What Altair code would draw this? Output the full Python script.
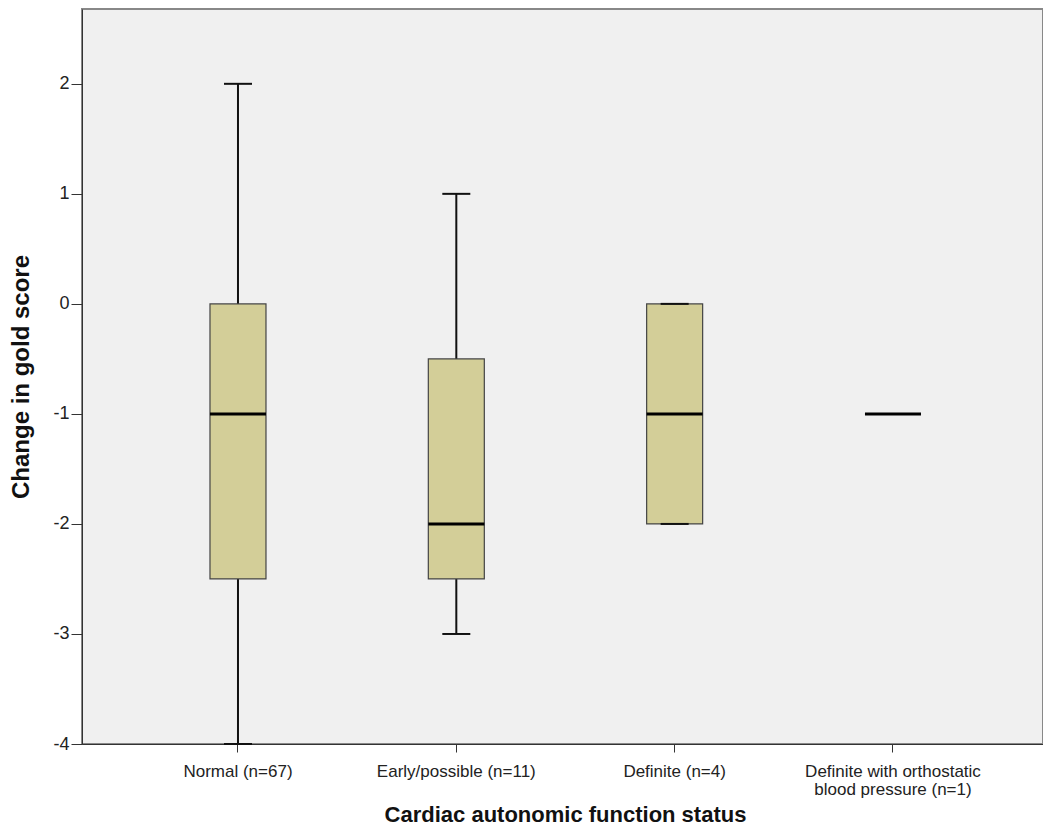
import altair as alt
import pandas as pd

categories = ["Normal (n=67)", "Early/possible (n=11)", "Definite (n=4)",
              "Definite with orthostatic|blood pressure (n=1)"]
whisker_low = [-4, -3, -2, -1]
q1 = [-2.5, -2.5, -2, -1]
median = [-1, -2, -1, -1]
q3 = [0, -0.5, 0, -1]
whisker_high = [2, 1, 0, -1]
y_ticks = [-4, -3, -2, -1, 0, 1, 2]

df = pd.DataFrame({
    "cat": categories, "lo": whisker_low, "q1": q1, "med": median,
    "q3": q3, "hi": whisker_high,
})
df_caps = df[df["lo"] < df["hi"]]
df_box = df[df["q1"] < df["q3"]]

FONT = "Liberation Sans"
W, H = 961, 735

xenc = alt.X("cat:N", sort=categories,
             scale=alt.Scale(paddingInner=0, paddingOuter=0.2008, align=0.534),
             axis=alt.Axis(title="Cardiac autonomic function status",
                           labelAngle=0, labelFontSize=17, labelColor="#222",
                           labelFont=FONT, labelPadding=11, labelLimit=400,
                           labelExpr="split(datum.label, '|')",
                           labelLineHeight=18, labelBaseline="top",
                           tickSize=8, tickColor="#333", domainColor="#333",
                           titleFont=FONT, titleFontSize=22, titleFontWeight="bold",
                           titleColor="#111", titleX=483, titleY=77,
                           titleBaseline="alphabetic", titleAlign="center"))
yscale = alt.Scale(domain=[-4, 2.68], nice=False, zero=False)
yaxis = alt.Axis(title="Change in gold score", values=y_ticks, grid=False,
                 labelExpr="datum.value < 0 ? '-' + abs(datum.value) : '' + datum.value",
                 labelFontSize=18, labelColor="#222", labelFont=FONT,
                 labelPadding=2, tickSize=11, tickColor="#333", domainColor="#333",
                 titleFont=FONT, titleFontSize=24, titleFontWeight="bold",
                 titleColor="#111", titleX=-61, titleY=367.5, titleAngle=-90,
                 titleBaseline="middle", titleAlign="center")

base = alt.Chart(df)

whiskers = base.mark_rule(color="#111", strokeWidth=2, opacity=1).encode(
    x=xenc,
    y=alt.Y("lo:Q", scale=yscale, axis=yaxis),
    y2="hi:Q",
)
boxes = alt.Chart(df_box).mark_bar(size=56, fill="#D3CE98", stroke="#444",
                                   strokeWidth=1.2, opacity=1).encode(
    x=alt.X("cat:N", sort=categories),
    y=alt.Y("q1:Q"), y2="q3:Q",
)
caps_lo = alt.Chart(df_caps).mark_tick(size=28, thickness=2, color="#111",
                                       opacity=1).encode(
    x=alt.X("cat:N", sort=categories), y=alt.Y("lo:Q"))
caps_hi = alt.Chart(df_caps).mark_tick(size=28, thickness=2, color="#111",
                                       opacity=1).encode(
    x=alt.X("cat:N", sort=categories), y=alt.Y("hi:Q"))
medians = base.mark_tick(size=56, thickness=3, color="#000", opacity=1).encode(
    x=alt.X("cat:N", sort=categories), y=alt.Y("med:Q"))

chart = alt.layer(whiskers, boxes, caps_lo, caps_hi, medians).properties(
    width=W, height=H,
    autosize=alt.AutoSizeParams(type="none"),
    padding={"left": 74, "top": 1, "right": 0, "bottom": 82},
    background="white",
).configure_view(
    fill="#F0F0F0", stroke="#888", strokeWidth=2,
)

chart.save("out.html", embed_options={"renderer": "svg", "actions": False})
